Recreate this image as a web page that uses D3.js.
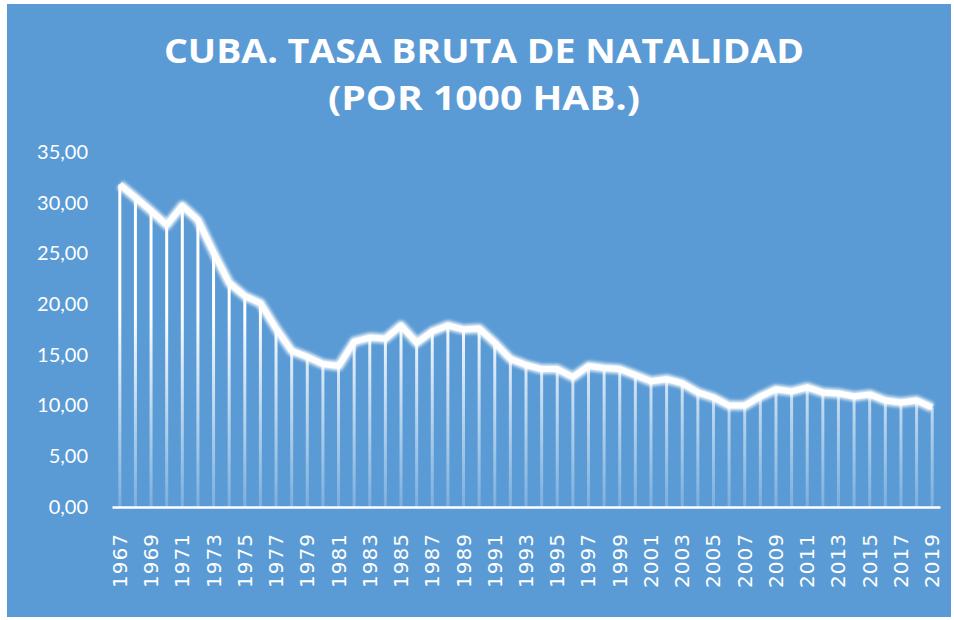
<!DOCTYPE html>
<html>
<head>
<meta charset="utf-8">
<script src="https://cdn.jsdelivr.net/npm/d3@7"></script>
<style>
  body { margin: 0; background: #fff; }
  svg { display: block; }
</style>
</head>
<body>
<div id="wrapper"></div>
<script>
const years = d3.range(1967, 2020);
const rates = [
  31.8, 30.5, 29.2, 27.8, 29.7, 28.3, 25.1, 22.1, 20.8, 20.1,
  17.6, 15.4, 14.8, 14.1, 13.9, 16.3, 16.7, 16.6, 17.9, 16.2,
  17.3, 17.9, 17.5, 17.6, 16.2, 14.6, 14.0, 13.6, 13.6, 12.8,
  13.9, 13.7, 13.6, 13.0, 12.4, 12.6, 12.2, 11.3, 10.8, 10.0,
  10.0, 10.9, 11.6, 11.4, 11.8, 11.3, 11.2, 10.9, 11.1, 10.5,
  10.3, 10.5, 9.8
];
const yTicks = [0, 5, 10, 15, 20, 25, 30, 35];
const titleLines = ["CUBA. TASA BRUTA DE NATALIDAD", "(POR 1000 HAB.)"];

const dataset = years.map((y, i) => ({year: y, rate: rates[i]}));
const xAccessor = d => d.year;
const yAccessor = d => d.rate;

let dimensions = {
  width: 954,
  height: 620,
  margin: {top: 152, right: 14, bottom: 113, left: 112}
};
dimensions.boundedWidth = dimensions.width - dimensions.margin.left - dimensions.margin.right;
dimensions.boundedHeight = dimensions.height - dimensions.margin.top - dimensions.margin.bottom;

const wrapper = d3.select("#wrapper").append("svg")
  .attr("width", dimensions.width)
  .attr("height", dimensions.height);

const defs = wrapper.append("defs");
const grad = defs.append("linearGradient")
  .attr("id", "dropGrad")
  .attr("gradientUnits", "userSpaceOnUse")
  .attr("x1", 0).attr("x2", 0)
  .attr("y1", 0).attr("y2", dimensions.boundedHeight);
grad.append("stop").attr("offset", "0.45").attr("stop-color", "#fff").attr("stop-opacity", 1);
grad.append("stop").attr("offset", "1").attr("stop-color", "#fff").attr("stop-opacity", 0.2);

defs.append("filter").attr("id", "glow")
  .attr("x", "-5%").attr("y", "-20%").attr("width", "110%").attr("height", "140%")
  .append("feGaussianBlur").attr("stdDeviation", 1.8);

// background
wrapper.append("rect")
  .attr("x", 7).attr("y", 4)
  .attr("width", 944).attr("height", 613)
  .attr("fill", "#5b9bd5");

// title
wrapper.append("g").selectAll("text")
  .data(titleLines)
  .join("text")
  .attr("x", 484)
  .attr("y", (d, i) => 63 + i * 47)
  .attr("text-anchor", "middle")
  .attr("fill", "#fff")
  .style("font-family", "'Open Sans', sans-serif")
  .style("font-weight", "bold")
  .style("font-size", "34px")
  .attr("textLength", (d, i) => i === 0 ? 640 : 312)
  .attr("lengthAdjust", "spacingAndGlyphs")
  .text(d => d);

const bounds = wrapper.append("g")
  .style("transform", `translate(${dimensions.margin.left}px,${dimensions.margin.top}px)`);

const xScaler = d3.scaleBand()
  .domain(years)
  .range([0, dimensions.boundedWidth]);

const yScaler = d3.scaleLinear()
  .domain([0, 35])
  .range([dimensions.boundedHeight, 0]);

const xPos = d => xScaler(xAccessor(d)) + xScaler.bandwidth() / 2;

// drop lines
bounds.append("g").selectAll("line")
  .data(dataset)
  .join("line")
  .attr("x1", xPos).attr("x2", xPos)
  .attr("y1", d => yScaler(yAccessor(d)))
  .attr("y2", dimensions.boundedHeight)
  .attr("stroke", "url(#dropGrad)")
  .attr("stroke-width", 3);

// axes
const yAxisGen = d3.axisLeft(yScaler)
  .tickValues(yTicks)
  .tickSize(0)
  .tickPadding(24)
  .tickFormat(d => d3.format(".2f")(d).replace(".", ","));
const axisY = bounds.append("g").call(yAxisGen);
axisY.select(".domain").remove();
axisY.selectAll("text")
  .attr("fill", "#fff")
  .style("font-family", "Lato, sans-serif")
  .style("font-size", "20px");

const xAxisGen = d3.axisBottom(xScaler)
  .tickValues(years.filter((y, i) => i % 2 === 0))
  .tickSize(0)
  .tickPadding(0);
const axisX = bounds.append("g")
  .style("transform", `translateY(${dimensions.boundedHeight}px)`)
  .call(xAxisGen);
axisX.select(".domain")
  .attr("stroke", "#fff")
  .attr("stroke-width", 2.5);
axisX.selectAll("text")
  .attr("fill", "#fff")
  .attr("transform", "rotate(-90)")
  .attr("text-anchor", "end")
  .attr("x", -26)
  .attr("y", 0)
  .attr("dy", "0.35em")
  .style("font-family", "'DejaVu Sans', sans-serif")
  .style("font-size", "20px")
  .style("letter-spacing", "1px");

// line
const lineGen = d3.line()
  .x(xPos)
  .y(d => yScaler(yAccessor(d)));

bounds.append("path")
  .datum(dataset)
  .attr("d", lineGen)
  .attr("fill", "none")
  .attr("stroke", "#fff")
  .attr("stroke-opacity", 0.8)
  .attr("stroke-width", 10)
  .attr("stroke-linejoin", "round")
  .attr("filter", "url(#glow)");

bounds.append("path")
  .datum(dataset)
  .attr("d", lineGen)
  .attr("fill", "none")
  .attr("stroke", "#fff")
  .attr("stroke-width", 6)
  .attr("stroke-linejoin", "round");
</script>
</body>
</html>
